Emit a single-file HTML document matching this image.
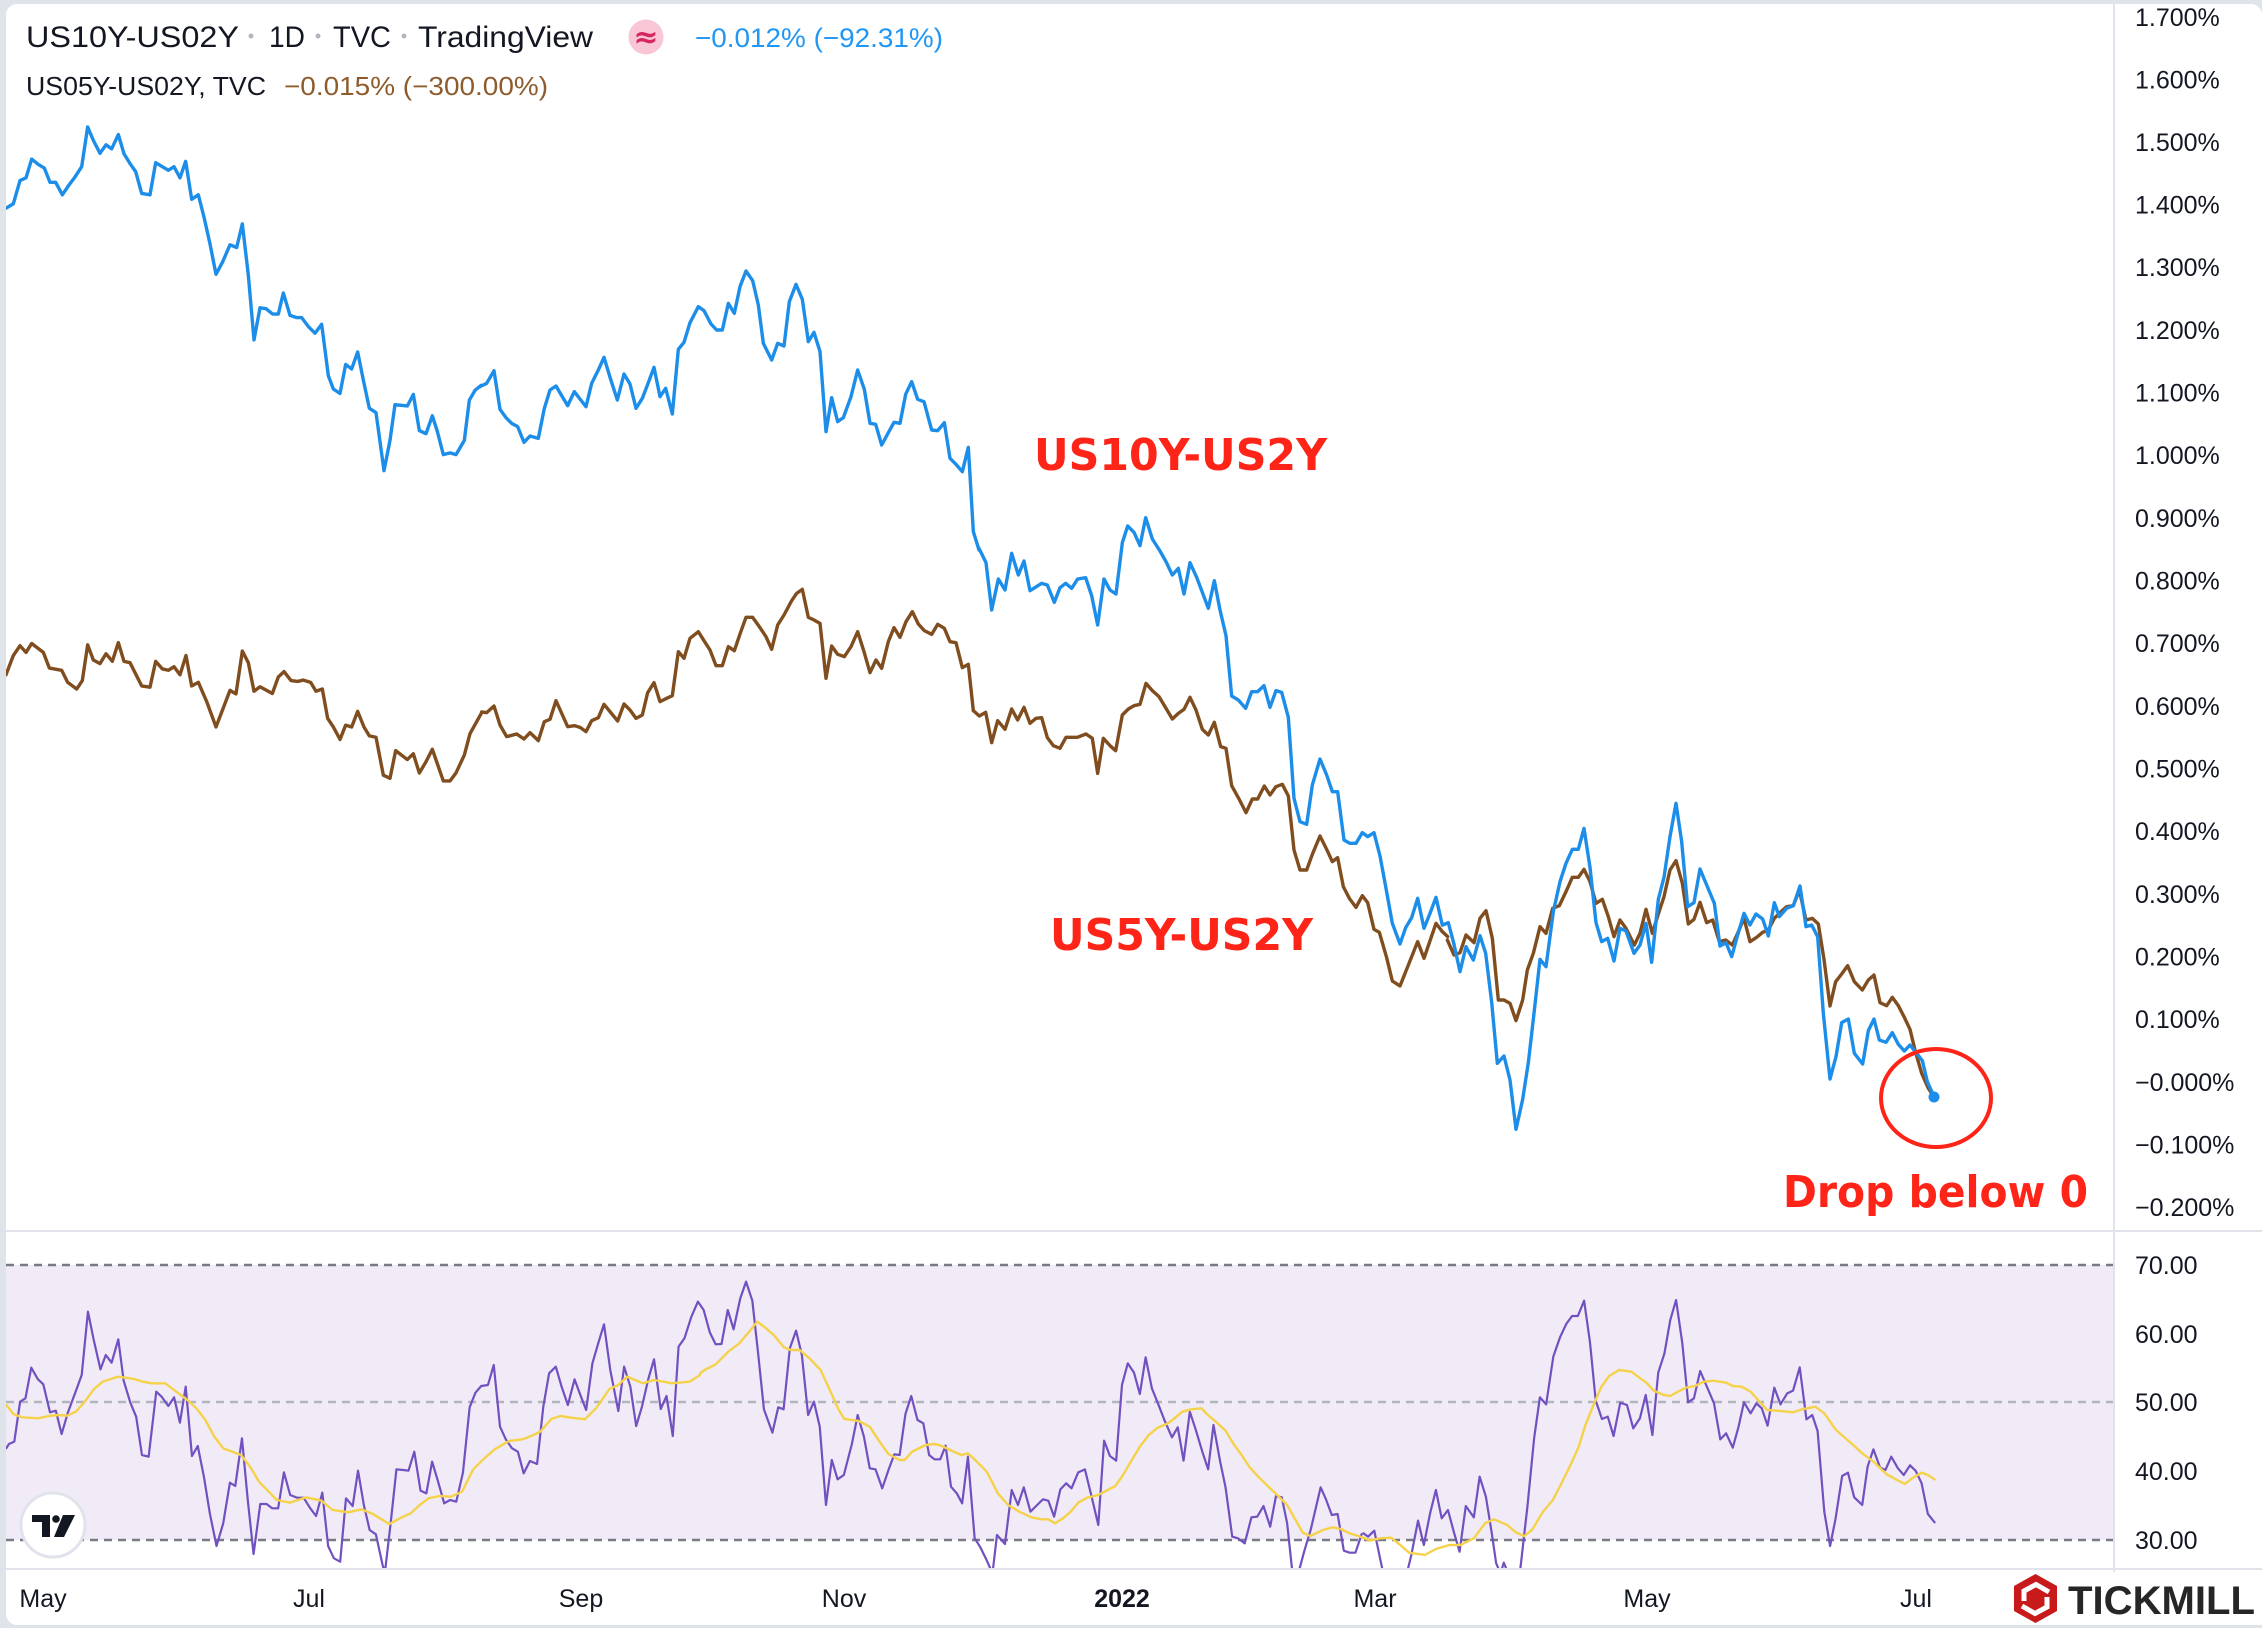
<!DOCTYPE html>
<html><head><meta charset="utf-8"><style>
html,body{margin:0;padding:0;background:#dfe3ea;}
svg{display:block}
</style></head><body>
<svg width="2262" height="1628" viewBox="0 0 2262 1628" xmlns="http://www.w3.org/2000/svg" font-family="'Liberation Sans', Arial, sans-serif">
<defs>
<clipPath id="cm"><rect x="6" y="4" width="2107" height="1226"/></clipPath>
<clipPath id="cr"><rect x="6" y="1232" width="2107" height="1336"/></clipPath>
<clipPath id="cr2"><rect x="6" y="1232" width="2107" height="336"/></clipPath>
</defs>
<rect x="0" y="0" width="2262" height="1628" fill="#dfe3ea"/>
<rect x="6" y="4" width="2256" height="1621" rx="11" fill="#ffffff"/>

<!-- RSI band -->
<rect x="6" y="1265" width="2107" height="275" fill="#f0ebf7"/>
<line x1="6" y1="1265" x2="2113" y2="1265" stroke="#787b86" stroke-width="2.5" stroke-dasharray="8,6"/>
<line x1="6" y1="1402" x2="2113" y2="1402" stroke="#b2b5be" stroke-width="2.5" stroke-dasharray="8,6"/>
<line x1="6" y1="1540" x2="2113" y2="1540" stroke="#787b86" stroke-width="2.5" stroke-dasharray="8,6"/>

<!-- separators -->
<line x1="6" y1="1231" x2="2262" y2="1231" stroke="#e0e3eb" stroke-width="2"/>
<line x1="6" y1="1569" x2="2262" y2="1569" stroke="#e0e3eb" stroke-width="2"/>
<line x1="2114" y1="4" x2="2114" y2="1573" stroke="#e0e3eb" stroke-width="2"/>

<!-- Main series -->
<g clip-path="url(#cm)" fill="none" stroke-linejoin="round" stroke-linecap="round">
<g stroke="#804d1f">
<polyline vector-effect="non-scaling-stroke" stroke-width="3.4" transform="translate(0,110) scale(0.33333,0.44643)" points="18,1265 40,1222 60,1200 78,1215 95,1195 130,1215 148,1250 185,1255 203,1282 230,1297 247,1278 263,1198 280,1232 300,1240 318,1218 337,1235 355,1193 372,1235 390,1238 425,1290 450,1293 467,1235 487,1252 505,1255 522,1247 540,1265 558,1222 575,1290 595,1282 620,1325 648,1382 690,1300 708,1308 727,1212 745,1238 762,1302 780,1292 817,1307 835,1270 852,1258 873,1278 893,1280 910,1277 932,1282 948,1302 967,1297 983,1363 1000,1382 1020,1410 1037,1378 1055,1382 1073,1347 1092,1382 1108,1402 1128,1405 1150,1490 1170,1497 1187,1435 1222,1455 1240,1442 1258,1485 1278,1460 1297,1432 1330,1503 1350,1503 1368,1485 1393,1445 1410,1397 1445,1350"/>
<polyline vector-effect="non-scaling-stroke" stroke-width="3.4" transform="translate(480,250) scale(0.33333)" points="5,1386 20,1388 42,1368 60,1425 80,1460 110,1452 132,1467 150,1448 175,1472 193,1415 210,1408 228,1352 263,1430 283,1427 300,1432 318,1445 335,1412 355,1403 372,1363 413,1413 432,1362 450,1380 468,1405 487,1395 503,1328 522,1298 540,1355 560,1345 577,1337 595,1205 612,1225 630,1165 655,1145 672,1172 690,1200 708,1247 727,1247 745,1190 763,1202 780,1152 798,1102 818,1102 840,1133 858,1160 875,1198 893,1125 912,1095 935,1052 950,1030 967,1018 985,1102 1002,1110 1020,1120 1038,1285 1055,1188 1073,1213 1093,1220 1113,1190 1133,1145 1152,1205 1170,1268 1188,1230 1205,1255 1225,1175 1242,1133 1260,1162 1278,1115 1297,1085 1315,1122 1333,1142 1355,1153 1373,1123 1393,1135 1410,1175 1428,1178 1447,1253 1465,1243 1480,1382"/>
<polyline vector-effect="non-scaling-stroke" stroke-width="3.4" transform="translate(960,500) scale(0.33333)" points="40,632 58,648 77,637 95,728 113,662 135,688 155,627 173,660 192,622 210,670 228,655 245,653 262,713 280,737 300,745 318,712 352,712 378,702 397,715 413,820 430,715 450,737 467,752 487,645 505,627 522,617 540,613 558,550 577,572 597,590 615,620 637,657 655,640 672,628 690,592 708,630 727,688 745,705 763,667 782,740 798,745 815,857 835,893 858,938 877,897 893,897 913,858 930,885 948,860 967,853 985,888 1002,1050 1020,1110 1040,1110 1057,1063 1080,1008 1100,1048 1117,1085 1133,1073 1150,1160 1168,1195 1188,1222 1207,1187 1223,1208 1242,1288 1258,1297 1280,1373 1297,1443 1320,1458 1373,1325 1392,1375 1428,1270 1447,1295 1463,1310"/>
<polyline vector-effect="non-scaling-stroke" stroke-width="3.4" transform="translate(1440,760) scale(0.33333)" points="22,540 42,585 60,578 78,525 102,548 120,475 138,452 157,535 175,720 192,720 210,730 228,782 248,720 262,630 280,580 300,500 318,520 338,445 358,437 378,395 397,352 415,352 432,328 450,365 468,430 487,418 505,470 522,530 540,480 558,505 583,555 600,520 618,448 637,520 655,462 672,410 690,330 708,302 727,370 745,492 762,478 780,427 800,488 818,480 838,545 857,540 877,555 893,520 912,475 930,545 950,532 968,517 985,510 1003,475 1020,458 1040,440 1060,437 1078,390 1098,480 1117,475 1135,492 1152,598 1170,738 1187,665 1205,642 1223,617 1243,665 1267,690 1285,660 1302,645 1320,728 1340,737 1357,712 1375,737 1393,772 1410,808 1425,870 1445,940 1465,985 1483,1012"/>
</g>
<g stroke="#1c8ee9">
<polyline vector-effect="non-scaling-stroke" stroke-width="3.4" transform="translate(0,110) scale(0.33333,0.44643)" points="18,220 40,210 60,158 78,152 95,110 115,122 133,130 150,162 167,162 187,190 205,170 225,150 245,127 263,38 280,68 300,97 318,78 335,87 355,55 372,98 390,120 407,138 425,187 450,190 467,118 487,127 505,135 522,127 540,152 557,115 575,200 595,190 612,240 630,300 648,368 668,340 690,302 710,308 727,255 745,370 762,515 780,443 798,445 818,457 835,457 850,410 870,460 890,465 905,465 925,485 945,500 965,480 985,595 1000,625 1020,635 1037,570 1055,580 1073,542 1090,605 1108,668 1128,678 1152,808 1170,740 1185,660 1222,663 1240,637 1258,718 1278,725 1297,685 1312,720 1330,772 1350,768 1368,772 1393,740 1408,650 1425,628 1443,617"/>
<polyline vector-effect="non-scaling-stroke" stroke-width="3.4" transform="translate(480,250) scale(0.33333)" points="0,410 20,400 42,362 60,478 78,503 95,520 113,530 132,577 150,558 175,565 193,475 210,420 228,408 245,437 263,467 283,425 300,447 318,470 335,400 355,360 372,322 392,388 412,450 432,372 450,402 468,475 487,445 505,398 522,352 540,440 557,415 577,492 595,298 612,277 630,218 655,170 672,182 693,222 710,240 727,240 745,160 763,190 780,110 798,63 818,92 835,165 850,280 875,330 893,280 912,288 928,155 948,103 967,148 985,275 1002,247 1020,305 1038,545 1055,443 1073,515 1090,503 1113,440 1133,360 1153,418 1170,520 1187,523 1205,585 1225,548 1242,517 1260,520 1277,433 1295,395 1313,448 1332,455 1355,540 1373,542 1393,518 1410,625 1428,643 1447,665 1465,592 1480,845 1497,900"/>
<polyline vector-effect="non-scaling-stroke" stroke-width="3.4" transform="translate(960,500) scale(0.33333)" points="57,145 78,188 95,330 115,237 135,270 155,160 175,225 192,183 210,272 245,250 262,255 283,307 300,263 317,250 335,265 353,237 377,233 395,287 413,375 432,237 450,270 468,282 487,128 503,78 522,97 540,137 557,53 577,117 600,153 618,185 637,225 655,205 672,282 690,188 710,232 745,325 763,242 780,330 798,407 815,588 835,600 857,625 875,575 893,575 912,557 930,622 948,572 965,577 985,652 1002,895 1020,965 1040,973 1057,855 1080,777 1100,825 1117,875 1133,875 1152,1020 1170,1030 1188,1030 1207,998 1223,1010 1242,998 1260,1068 1278,1165 1297,1270 1320,1332 1337,1283 1355,1253 1373,1195 1392,1285 1410,1240 1428,1192 1447,1275"/>
<polyline vector-effect="non-scaling-stroke" stroke-width="3.4" transform="translate(1440,760) scale(0.33333)" points="8,495 25,488 42,553 60,635 78,560 100,600 120,527 137,580 155,727 172,910 192,888 210,960 228,1108 248,1018 265,908 282,760 300,598 318,620 340,455 360,365 378,310 397,268 415,268 432,205 450,322 468,488 485,545 503,535 522,603 540,505 558,513 582,580 600,555 618,490 635,607 655,418 672,352 690,230 708,130 725,245 743,440 762,428 780,327 800,375 823,430 840,558 858,548 875,590 893,525 912,460 930,495 948,462 968,477 985,528 1003,428 1018,470 1040,445 1060,437 1080,378 1098,500 1115,495 1133,530 1150,760 1170,957 1188,890 1205,788 1225,777 1243,880 1268,912 1285,812 1302,777 1318,840 1338,847 1357,818 1375,853 1393,873 1410,855 1430,880 1447,902 1462,965 1483,1012"/>
</g>
</g>
<circle cx="1934" cy="1097" r="5.5" fill="#1c8ee9"/>

<!-- RSI series -->
<g clip-path="url(#cr2)" fill="none" stroke-linejoin="round" stroke-linecap="round">
<g stroke="#7150c0">
<polyline vector-effect="non-scaling-stroke" stroke-width="2.2" transform="translate(0,1240) scale(0.44643,0.33333)" points="14,625 20,612 32,605 45,485 57,475 70,383 85,418 97,433 112,517 125,512 138,582 152,518 168,460 183,405 197,215 210,300 225,388 237,345 250,368 265,298 277,422 292,488 305,530 318,645 333,650 350,455 362,470 377,498 390,472 403,548 416,440 430,648 443,618 457,712 470,820 485,918 500,850 515,728 527,738 542,595 555,780 568,942 583,792 597,792 610,805 623,805 636,697 650,765 665,773 680,773 695,805 708,828 722,758 735,918 748,955 762,965 775,775 790,798 802,692 815,795 828,870 842,883 857,975 862,1000 875,850 888,688 903,690 915,692 928,635 942,752 955,760 968,665 982,728 995,790 1008,780 1022,785 1037,698 1052,502 1065,458 1078,438 1093,435 1106,375 1120,560 1133,598 1147,625 1160,635 1173,700 1187,663 1203,672 1217,500 1230,400 1245,380 1258,440 1272,495 1287,418 1300,465 1313,510 1327,370 1340,310 1353,253 1367,390 1385,513 1398,380 1412,440 1425,558 1438,500 1452,418 1465,358 1480,507 1493,468 1507,588 1520,320 1532,297"/>
<polyline vector-effect="non-scaling-stroke" stroke-width="2.2" transform="translate(680,1240) scale(0.44643,0.33333)" points="10,295 25,232 40,185 53,210 67,278 80,313 93,312 107,210 120,268 135,175 148,125 162,182 175,340 188,508 207,578 220,502 232,508 246,325 260,272 273,345 287,525 300,485 313,560 327,795 340,660 353,718 367,705 385,612 398,525 412,590 425,685 438,688 453,745 467,690 480,643 492,645 505,522 518,468 532,540 545,550 558,645 570,658 583,658 595,617 607,740 620,760 632,790 645,650 660,895 672,920 685,955 700,1000 710,885 728,912 743,750 757,795 770,742 785,815 800,795 813,778 825,782 838,830 852,748 865,730 877,745 892,697 907,688 922,770 937,855 950,602 963,648 977,662 990,435 1003,370 1017,398 1030,462 1043,352 1057,445 1070,488 1085,540 1102,592 1115,562 1128,662 1142,515 1155,568 1170,635 1183,688 1195,555 1210,665 1222,742 1237,890 1250,895 1265,910 1280,832 1293,830 1307,798 1322,860 1335,768 1348,772 1360,850 1372,1000 1385,1000 1398,935 1413,868 1435,742 1447,778 1460,825 1473,822 1487,932 1500,938 1513,938 1527,882"/>
<polyline vector-effect="non-scaling-stroke" stroke-width="2.2" transform="translate(1360,1240) scale(0.44643,0.33333)" points="8,880 18,890 32,872 52,1000 70,1040 90,1040 105,1000 115,945 130,842 143,915 157,820 170,750 183,835 197,810 210,875 223,935 237,798 255,832 268,710 282,770 295,878 305,970 315,1000 322,968 332,1000 358,1000 375,800 390,595 403,472 417,493 433,350 448,292 462,252 475,228 488,228 502,182 515,305 528,482 542,537 555,530 568,588 583,488 598,495 612,565 627,535 640,465 655,585 668,398 682,340 695,240 708,180 722,310 735,487 748,475 762,393 777,440 793,490 807,598 820,580 835,623 848,560 860,487 875,520 888,490 900,505 913,557 928,443 942,493 957,460 970,452 985,382 1000,538 1013,525 1025,573 1040,815 1053,918 1065,838 1080,708 1093,698 1107,772 1125,795 1137,680 1150,628 1165,683 1177,690 1190,650 1205,685 1218,705 1232,676 1245,693 1258,730 1272,822 1287,847"/>
</g>
<g stroke="#f5d24a">
<polyline vector-effect="non-scaling-stroke" stroke-width="2.4" transform="translate(0,1240) scale(0.44643,0.33333)" points="14,495 30,522 50,532 85,535 110,528 130,525 150,527 170,515 190,485 210,448 230,425 265,410 300,417 320,425 340,430 370,430 395,455 420,480 440,505 460,540 480,590 500,625 540,645 560,680 580,725 600,752 620,780 650,788 685,772 720,782 745,810 780,817 810,808 835,822 872,852 900,832 920,820 940,795 960,775 985,768 1010,770 1035,755 1060,688 1085,655 1108,628 1140,603 1170,598 1190,588 1210,575 1235,537 1255,528 1280,533 1310,538 1335,505 1365,447 1385,435 1405,410 1440,430 1465,420 1505,430 1545,425 1568,405"/>
<polyline vector-effect="non-scaling-stroke" stroke-width="2.4" transform="translate(680,1240) scale(0.44643,0.33333)" points="45,400 55,390 80,373 108,335 133,310 155,275 173,245 190,262 210,285 233,322 248,330 268,330 290,355 315,390 335,448 355,508 368,537 400,543 425,560 447,605 467,642 492,660 503,660 520,635 550,615 570,612 585,617 610,633 630,645 645,640 665,665 687,695 712,760 735,795 760,815 787,832 810,838 825,838 840,850 858,835 875,815 893,787 912,773 937,765 955,752 975,738 990,710 1010,665 1030,620 1050,585 1070,563 1090,552 1105,538 1125,515 1145,508 1168,505 1180,522 1200,545 1222,572 1240,612 1258,645 1275,680 1295,710 1318,740 1340,768 1360,795 1378,838 1395,878 1412,888 1440,870 1462,862 1480,867 1500,880 1520,888 1543,900"/>
<polyline vector-effect="non-scaling-stroke" stroke-width="2.4" transform="translate(1360,1240) scale(0.44643,0.33333)" points="20,902 45,895 70,893 90,915 110,938 145,945 170,927 200,915 225,915 255,895 280,850 300,838 330,855 350,878 368,888 385,870 410,815 432,780 455,720 475,665 490,620 505,555 522,498 540,442 558,408 580,390 608,395 625,412 643,430 658,452 680,465 695,468 712,455 730,443 750,438 770,425 792,422 820,428 835,438 855,440 875,455 895,485 912,510 935,512 970,517 990,508 1020,500 1040,520 1065,568 1085,592 1105,615 1125,640 1150,665 1180,703 1200,718 1220,732 1240,712 1258,698 1272,705 1287,718"/>
</g>
</g>

<!-- Header legend -->
<g fill="#131722" font-size="30">
<text x="26" y="47" textLength="213" lengthAdjust="spacingAndGlyphs">US10Y-US02Y</text>
<text x="269" y="47" textLength="36" lengthAdjust="spacingAndGlyphs">1D</text>
<text x="333" y="47" textLength="58" lengthAdjust="spacingAndGlyphs">TVC</text>
<text x="418" y="47" textLength="175" lengthAdjust="spacingAndGlyphs">TradingView</text>
</g>
<circle cx="251" cy="36" r="2.5" fill="#b2b5be"/>
<circle cx="318" cy="36" r="2.5" fill="#b2b5be"/>
<circle cx="404" cy="36" r="2.5" fill="#b2b5be"/>
<circle cx="646" cy="37" r="17.5" fill="#f8c6d4"/>
<text x="646" y="47" font-size="30" font-weight="bold" fill="#d6265f" text-anchor="middle" font-family="'DejaVu Sans', sans-serif">≈</text>
<text x="695" y="47" font-size="27" fill="#2196f3" textLength="248" lengthAdjust="spacingAndGlyphs">−0.012% (−92.31%)</text>
<text x="26" y="95" font-size="26" fill="#131722" textLength="240" lengthAdjust="spacingAndGlyphs">US05Y-US02Y, TVC</text>
<text x="284" y="95" font-size="26" fill="#8d5b2c" textLength="264" lengthAdjust="spacingAndGlyphs">−0.015% (−300.00%)</text>

<!-- Price axis -->
<g fill="#131722" font-size="25">
<text x="2135" y="26">1.700%</text>
<text x="2135" y="88.5">1.600%</text>
<text x="2135" y="151">1.500%</text>
<text x="2135" y="213.5">1.400%</text>
<text x="2135" y="276">1.300%</text>
<text x="2135" y="339">1.200%</text>
<text x="2135" y="401.5">1.100%</text>
<text x="2135" y="464">1.000%</text>
<text x="2135" y="527">0.900%</text>
<text x="2135" y="589.5">0.800%</text>
<text x="2135" y="652">0.700%</text>
<text x="2135" y="715">0.600%</text>
<text x="2135" y="777.5">0.500%</text>
<text x="2135" y="840">0.400%</text>
<text x="2135" y="903">0.300%</text>
<text x="2135" y="965.5">0.200%</text>
<text x="2135" y="1028">0.100%</text>
<text x="2135" y="1091">−0.000%</text>
<text x="2135" y="1153.5">−0.100%</text>
<text x="2135" y="1216">−0.200%</text>
<text x="2135" y="1274">70.00</text>
<text x="2135" y="1343">60.00</text>
<text x="2135" y="1411">50.00</text>
<text x="2135" y="1480">40.00</text>
<text x="2135" y="1549">30.00</text>
</g>

<!-- Time axis -->
<g fill="#131722" font-size="25" text-anchor="middle">
<text x="43" y="1607">May</text>
<text x="309" y="1607">Jul</text>
<text x="581" y="1607">Sep</text>
<text x="844" y="1607">Nov</text>
<text x="1122" y="1607" font-weight="bold">2022</text>
<text x="1375" y="1607">Mar</text>
<text x="1647" y="1607">May</text>
<text x="1916" y="1607">Jul</text>
</g>

<!-- Annotations -->
<g fill="#fe2418" font-family="'DejaVu Sans', 'Liberation Sans', sans-serif" font-weight="bold" font-size="44">
<text x="1034" y="470" textLength="293" lengthAdjust="spacingAndGlyphs">US10Y-US2Y</text>
<text x="1050" y="950" textLength="263" lengthAdjust="spacingAndGlyphs">US5Y-US2Y</text>
<text x="1783" y="1207" textLength="305" lengthAdjust="spacingAndGlyphs">Drop below 0</text>
</g>
<ellipse cx="1936" cy="1098" rx="55" ry="49" fill="none" stroke="#fe2418" stroke-width="4"/>

<!-- TradingView logo -->
<circle cx="53" cy="1525" r="32" fill="#ffffff" stroke="#e0e3eb" stroke-width="3"/>
<path d="M32,1515 H50 V1537 H42 V1522 H32 Z" fill="#131722"/>
<circle cx="56" cy="1519" r="3.8" fill="#131722"/>
<path d="M63,1515 H75 L64,1537 H54 Z" fill="#131722"/>

<!-- bottom border & Tickmill -->
<rect x="0" y="1625" width="2262" height="3" fill="#dfe3ea"/>
<rect x="2013" y="1572" width="249" height="53" fill="#ffffff"/>
<polygon points="2035.5,1574 2057,1586 2057,1611 2035.5,1623 2014,1611 2014,1586" fill="#c8191b"/>
<polyline points="2049,1592 2036,1584.5 2024,1591 2024,1601" fill="none" stroke="#ffffff" stroke-width="5"/>
<polyline points="2022,1606 2035,1613.5 2047,1607 2047,1597" fill="none" stroke="#ffffff" stroke-width="5"/>
<text x="2068" y="1614" font-size="40" font-weight="bold" fill="#262626" textLength="187" lengthAdjust="spacingAndGlyphs">TICKMILL</text>
</svg>
</body></html>
